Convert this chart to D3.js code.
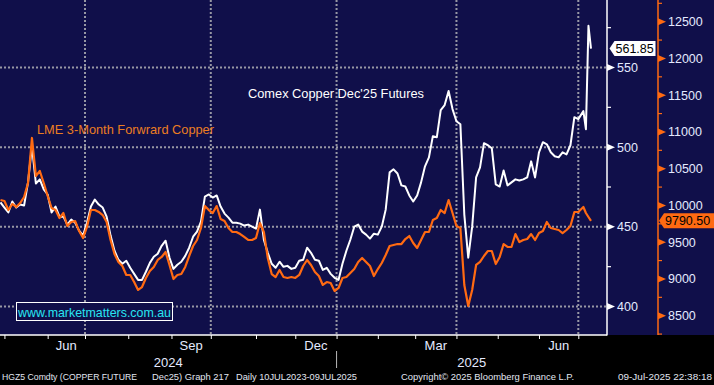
<!DOCTYPE html>
<html>
<head>
<meta charset="utf-8">
<script src="https://cdn.jsdelivr.net/npm/d3@7"></script>
<style>
  html, body { margin: 0; padding: 0; background: #000; }
  svg { display: block; }
</style>
</head>
<body>
<svg id="chart"></svg>
<script>
(function () {
  'use strict';

  // Trading sessions counted from 29 Apr 2024: every other session, daily for the last week
  const sessions = d3.range(0, 296, 2).concat([296, 297, 298, 299]);

  // Comex Copper Dec'25 futures, US cents/lb (left scale)
  const comex = [
    465.3, 462.1, 459.0, 465.9, 462.1, 464.0, 463.4, 477.9, 500.6, 477.2,
    479.8, 473.5, 470.3, 459.0, 462.7, 456.4, 456.4, 451.4, 454.5, 452.6,
    447.6, 444.5, 452.6, 462.7, 467.1, 464.0, 462.1, 456.4, 444.5, 435.0,
    429.3, 426.8, 428.7, 424.3, 420.5, 416.7, 416.7, 421.8, 427.4, 431.2,
    433.1, 438.1, 441.3, 430.6, 423.6, 426.2, 428.1, 431.8, 436.9, 443.8,
    447.0, 453.3, 469.0, 470.3, 468.4, 469.7, 462.7, 458.3, 455.8, 452.6,
    452.6, 452.0, 450.8, 451.4, 450.1, 448.9, 460.8, 441.9, 433.7, 426.8,
    424.3, 428.1, 424.9, 425.5, 423.6, 424.3, 428.7, 429.3, 436.9, 433.7,
    429.3, 428.7, 423.0, 424.3, 420.5, 418.0, 416.7, 426.8, 435.0, 441.9,
    450.1, 451.4, 447.0, 445.1, 442.6, 445.7, 445.1, 450.1, 460.8, 484.2,
    486.1, 483.5, 476.0, 475.3, 469.7, 465.9, 469.7, 477.9, 488.0, 493.6,
    506.9, 506.2, 523.3, 526.4, 535.2, 523.9, 516.3, 514.4, 457.7, 430.6,
    450.1, 481.0, 487.3, 502.5, 501.2, 499.3, 476.6, 475.3, 485.4, 476.0,
    477.9, 479.8, 479.1, 479.8, 481.0, 491.1, 481.0, 496.8, 503.1, 501.8,
    496.8, 494.3, 493.6, 496.8, 495.5, 501.2, 518.8, 517.6,
    522.6, 511.3, 576.2, 561.85
  ];

  // LME 3-month forward copper, USD/t (right scale)
  const lme = [
    10074, 10060, 9938, 10020, 9979, 10033, 10115, 10305, 10918, 10401,
    10469, 10305, 10129, 9965, 9938, 9829, 9897, 9720, 9775, 9788,
    9652, 9557, 9707, 9938, 9938, 9911, 9870, 9775, 9530, 9339,
    9231, 9176, 9054, 9054, 8958, 8850, 8890, 9013, 9108, 9163,
    9258, 9299, 9367, 9190, 8999, 9054, 9067, 9163, 9312, 9448,
    9530, 9693, 9992, 9938, 9897, 9992, 9816, 9788, 9693, 9639,
    9639, 9611, 9571, 9530, 9530, 9557, 9761, 9639, 9285, 9067,
    9026, 9122, 9026, 9013, 9026, 9013, 9054, 9176, 9258, 9190,
    9095, 9040, 8918, 8958, 8945, 8836, 8877, 9013, 9026, 9081,
    9135, 9231, 9285, 9231, 9176, 9040, 9135, 9217, 9326, 9448,
    9462, 9475, 9475, 9543, 9584, 9489, 9421, 9530, 9639, 9639,
    9802, 9829, 9938, 9897, 10074, 9897, 9720, 9693, 8918, 8632,
    8850, 9190, 9231, 9312, 9380, 9380, 9203, 9299, 9475, 9435,
    9435, 9611, 9503, 9530, 9543, 9611, 9530, 9625, 9652, 9775,
    9693, 9680, 9666, 9625, 9666, 9720, 9911, 9911,
    9979, 9897, 9843, 9790.5
  ];

  // Calendar: first session of each month
  const monthNames = ["May", "Jun", "Jul", "Aug", "Sep", "Oct", "Nov", "Dec",
                      "Jan", "Feb", "Mar", "Apr", "May", "Jun", "Jul"];
  const monthStarts = [2, 24, 43, 65, 87, 107, 130, 150, 171, 192, 211, 232, 253, 274, 294];
  const labelledMonths = ["Jun", "Sep", "Dec", "Mar"];
  const gridMonths = ["Jul", "Oct", "Jan", "Apr"];
  const yearNames = ["2024", "2025"];
  const yearStarts = [0, 171];

  const comexTicks = [400, 450, 500, 550];
  const comexMinor = [425, 475, 525, 575];
  const lmeTicks = [8500, 9000, 9500, 10000, 10500, 11000, 11500, 12000, 12500];
  const lmeMinor = [8250, 8750, 9250, 9750, 10250, 10750, 11250, 11750, 12250, 12750];

  const width = 714;
  const height = 385;
  const plot = { left: 0, right: 607, top: 0, bottom: 335 };
  const lmeAxisX = 658;

  const NAVY = "#100f4a";
  const ORANGE = "#ff6a12";
  const LABEL = "#e4eaff";
  const FONT = "'Liberation Sans', Arial, sans-serif";

  const svg = d3.select("#chart")
    .attr("width", width)
    .attr("height", height)
    .style("font-family", FONT);

  svg.append("rect").attr("width", width).attr("height", height).attr("fill", "#000");
  svg.append("rect").attr("width", width).attr("height", plot.bottom).attr("fill", NAVY);

  const x = d3.scaleLinear().domain([0, 294, 299]).range([0.5, 578.3, 591]);
  const yComex = d3.scaleLinear().domain([400, 550]).range([306.5, 67.5]);
  const yLme = d3.scaleLinear().domain([8500, 12500]).range([315.7, 21.7]);

  // Dotted grid
  const grid = svg.append("g")
    .attr("stroke", "#9797a4")
    .attr("stroke-width", 2)
    .attr("stroke-dasharray", "2,2");
  grid.selectAll("line.h").data(comexTicks).join("line")
    .attr("class", "h")
    .attr("x1", plot.left).attr("x2", plot.right)
    .attr("y1", d => yComex(d)).attr("y2", d => yComex(d));
  grid.selectAll("line.v")
    .data(monthStarts.filter((s, i) => gridMonths.includes(monthNames[i])))
    .join("line")
    .attr("class", "v")
    .attr("x1", d => x(d)).attr("x2", d => x(d))
    .attr("y1", plot.top).attr("y2", plot.bottom);

  // Watermark
  svg.append("rect")
    .attr("x", 16.5).attr("y", 302.5).attr("width", 156).attr("height", 18)
    .attr("fill", NAVY).attr("stroke", "#fff").attr("stroke-width", 1);
  svg.append("text")
    .attr("x", 18).attr("y", 317)
    .attr("font-size", 13.5).attr("fill", "#28e6f2")
    .attr("textLength", 153).attr("lengthAdjust", "spacingAndGlyphs")
    .text("www.marketmatters.com.au");

  // Series
  svg.append("clipPath").attr("id", "plotClip")
    .append("rect").attr("width", plot.right).attr("height", plot.bottom);

  const lines = svg.append("g").attr("clip-path", "url(#plotClip)");
  lines.append("path")
    .datum(comex)
    .attr("fill", "none")
    .attr("stroke", "#ffffff")
    .attr("stroke-width", 2)
    .attr("stroke-linejoin", "round")
    .attr("d", d3.line().x((d, i) => x(sessions[i])).y(d => yComex(d)));
  lines.append("path")
    .datum(lme)
    .attr("fill", "none")
    .attr("stroke", ORANGE)
    .attr("stroke-width", 2.2)
    .attr("stroke-linejoin", "round")
    .attr("d", d3.line().x((d, i) => x(sessions[i])).y(d => yLme(d)));

  // Series names
  svg.append("text")
    .attr("x", 248).attr("y", 98)
    .attr("font-size", 13).attr("fill", "#ffffff")
    .attr("textLength", 176).attr("lengthAdjust", "spacingAndGlyphs")
    .text("Comex Copper Dec'25 Futures");
  svg.append("text")
    .attr("x", 37).attr("y", 133.5)
    .attr("font-size", 13).attr("fill", "#eb7d22")
    .attr("textLength", 177).attr("lengthAdjust", "spacingAndGlyphs")
    .text("LME 3-Month Forwrard Copper");

  // Frame
  svg.append("line")
    .attr("x1", plot.right).attr("x2", plot.right).attr("y1", 0).attr("y2", plot.bottom + 0.5)
    .attr("stroke", "#fff").attr("stroke-width", 1.5);
  svg.append("line")
    .attr("x1", 0).attr("x2", plot.right).attr("y1", plot.bottom).attr("y2", plot.bottom)
    .attr("stroke", "#fff").attr("stroke-width", 1.5);

  // Left value axis (Comex)
  const comexAxis = svg.append("g")
    .attr("transform", `translate(${plot.right},0)`)
    .call(d3.axisRight(yComex).tickValues(comexTicks).tickSize(0).tickPadding(10));
  comexAxis.select(".domain").remove();
  comexAxis.attr("font-family", FONT).attr("font-size", 12.5);
  comexAxis.selectAll("text").attr("fill", LABEL);
  svg.append("g").selectAll("path").data(comexTicks).join("path")
    .attr("d", d => `M${plot.right},${yComex(d) - 3.5}L${plot.right + 8},${yComex(d)}L${plot.right},${yComex(d) + 3.5}Z`)
    .attr("fill", "#fff");
  svg.append("g").selectAll("line").data(comexMinor).join("line")
    .attr("x1", plot.right).attr("x2", plot.right + 4)
    .attr("y1", d => yComex(d)).attr("y2", d => yComex(d))
    .attr("stroke", "#fff").attr("stroke-width", 1.2);

  // Right value axis (LME)
  svg.append("line")
    .attr("x1", lmeAxisX).attr("x2", lmeAxisX).attr("y1", 0).attr("y2", plot.bottom)
    .attr("stroke", ORANGE).attr("stroke-width", 1.5);
  const lmeAxis = svg.append("g")
    .attr("transform", `translate(${lmeAxisX},0)`)
    .call(d3.axisRight(yLme).tickValues(lmeTicks).tickSize(0).tickPadding(10).tickFormat(d3.format("d")));
  lmeAxis.select(".domain").remove();
  lmeAxis.attr("font-family", FONT).attr("font-size", 12.5);
  lmeAxis.selectAll("text").attr("fill", LABEL);
  svg.append("g").selectAll("path").data(lmeTicks).join("path")
    .attr("d", d => `M${lmeAxisX},${yLme(d) - 3.5}L${lmeAxisX + 8},${yLme(d)}L${lmeAxisX},${yLme(d) + 3.5}Z`)
    .attr("fill", ORANGE);
  svg.append("g").selectAll("line").data(lmeMinor.filter(d => yLme(d) <= plot.bottom)).join("line")
    .attr("x1", lmeAxisX).attr("x2", lmeAxisX + 4)
    .attr("y1", d => yLme(d)).attr("y2", d => yLme(d))
    .attr("stroke", ORANGE).attr("stroke-width", 1.2);

  // Time axis
  const timeAxis = svg.append("g")
    .attr("transform", `translate(0,${plot.bottom})`)
    .call(d3.axisBottom(x).tickValues(monthStarts).tickSize(4).tickFormat(""));
  timeAxis.select(".domain").remove();
  timeAxis.selectAll("line").attr("stroke", "#fff");

  const monthEdges = monthStarts.map(x).concat([plot.right]);
  svg.append("g").selectAll("text")
    .data(monthNames.map((m, i) => ({ m, i })).filter(d => labelledMonths.includes(d.m) || (d.m === "Jun" && d.i > 0)))
    .join("text")
    .attr("x", d => (monthEdges[d.i] + monthEdges[d.i + 1]) / 2)
    .attr("y", 350)
    .attr("text-anchor", "middle")
    .attr("font-size", 13)
    .attr("fill", LABEL)
    .text(d => d.m);

  const yearEdges = yearStarts.map((s, i) => i === 0 ? plot.left : x(s)).concat([plot.right]);
  svg.append("g").selectAll("text").data(yearNames).join("text")
    .attr("x", (d, i) => (yearEdges[i] + yearEdges[i + 1]) / 2)
    .attr("y", 367)
    .attr("text-anchor", "middle")
    .attr("font-size", 13)
    .attr("fill", LABEL)
    .text(d => d);
  svg.append("g").selectAll("line").data(yearStarts.slice(1)).join("line")
    .attr("x1", d => x(d)).attr("x2", d => x(d))
    .attr("y1", 351).attr("y2", 368)
    .attr("stroke", "#b8b8b8").attr("stroke-width", 1);

  // Last value tags
  function valueTag(xTip, y, w, label, fill) {
    svg.append("path")
      .attr("d", `M${xTip},${y}L${xTip + 5},${y - 7.5}H${xTip + w}V${y + 7.5}H${xTip + 5}Z`)
      .attr("fill", fill);
    svg.append("text")
      .attr("x", xTip + 6).attr("y", y).attr("dy", "0.36em")
      .attr("font-size", 12.5).attr("fill", "#000")
      .text(label);
  }
  const lastComex = comex[comex.length - 1];
  const lastLme = lme[lme.length - 1];
  valueTag(609.5, yComex(lastComex), 46, d3.format(".2f")(lastComex), "#ffffff");
  valueTag(659, yLme(lastLme), 60, d3.format(".2f")(lastLme), ORANGE);

  // Footer
  const footer = [
    ["HGZ5 Comdty (COPPER FUTURE", 2, 135],
    ["Dec25) Graph 217", 152, 77],
    ["Daily 10JUL2023-09JUL2025", 236, 121],
    ["Copyright\u00a9 2025 Bloomberg Finance L.P.", 401, 173],
    ["09-Jul-2025 22:38:18", 618, 94]
  ];
  svg.append("g").selectAll("text").data(footer).join("text")
    .attr("x", d => d[1]).attr("y", 380)
    .attr("font-size", 9.3).attr("fill", "#e2e6f0")
    .attr("textLength", d => d[2]).attr("lengthAdjust", "spacingAndGlyphs")
    .text(d => d[0]);

})();
</script>
</body>
</html>
